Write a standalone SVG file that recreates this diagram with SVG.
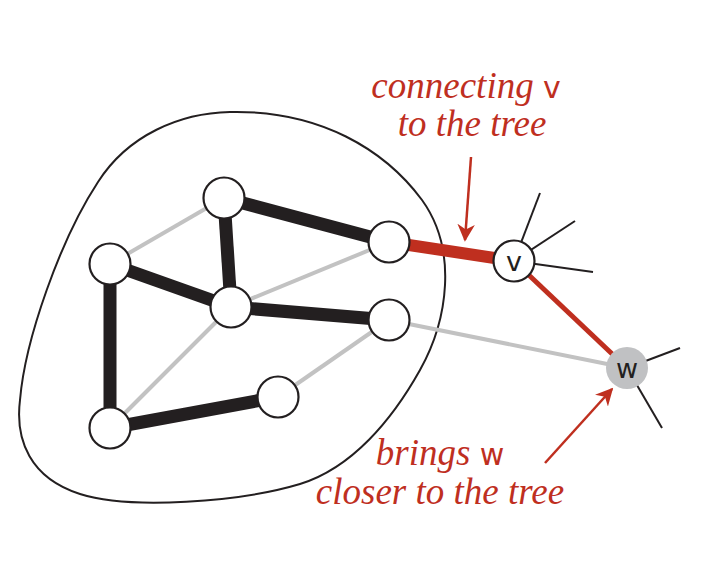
<svg xmlns="http://www.w3.org/2000/svg" width="709" height="565" viewBox="0 0 709 565">
<style>
.node{fill:#fff;stroke:#231f20;stroke-width:2.2}
.gray{stroke:#c2c2c2;stroke-width:4;fill:none}
.tree{stroke:#231f20;stroke-width:13;fill:none}
.stub{stroke:#231f20;stroke-width:2;fill:none}
.red{stroke:#bf2f1f;fill:none}
.lbl{font-family:"Liberation Serif",serif;font-style:italic;font-size:37px;fill:#bf2f1f}
.sans{font-family:"DejaVu Sans","Liberation Sans",sans-serif;font-style:normal}
.nl{font-family:"DejaVu Sans","Liberation Sans",sans-serif;font-size:27px;fill:#231f20;text-anchor:middle}
</style>
<defs>
<marker id="ah" viewBox="0 0 10 10" refX="9" refY="5" markerWidth="7" markerHeight="7" orient="auto" markerUnits="strokeWidth">
<path d="M0,0 L10,5 L0,10 L3,5 Z" fill="#bf2f1f"/>
</marker>
</defs>
<path id="blob" d="M230,112 C320,110 385,150 422,200 C458,250 448,320 420,370 C392,420 352,468 300,484 C240,502 130,510 80,494 C30,478 15,440 20,400 C25,340 60,240 98,182 C128,135 180,113 230,112 Z" fill="none" stroke="#231f20" stroke-width="2"/>
<g id="connectors">
<line class="gray" x1="224" y1="198" x2="110" y2="264"/>
<line class="gray" x1="231" y1="307" x2="389" y2="242"/>
<line class="gray" x1="231" y1="307" x2="110" y2="428"/>
<line class="gray" x1="278" y1="397" x2="389" y2="320"/>
<line class="gray" x1="389" y1="320" x2="627" y2="368"/>
<line class="tree" x1="224" y1="198" x2="389" y2="242"/>
<line class="tree" x1="224" y1="198" x2="231" y2="307"/>
<line class="tree" x1="110" y1="264" x2="231" y2="307"/>
<line class="tree" x1="231" y1="307" x2="389" y2="320"/>
<line class="tree" x1="110" y1="264" x2="110" y2="428"/>
<line class="tree" x1="110" y1="428" x2="278" y2="397"/>
<line class="red" stroke-width="12" x1="389" y1="242" x2="514" y2="261"/>
<line class="red" stroke-width="5" x1="514" y1="261" x2="627" y2="368"/>
<line class="stub" x1="514" y1="261" x2="540" y2="193"/>
<line class="stub" x1="514" y1="261" x2="575" y2="221"/>
<line class="stub" x1="514" y1="261" x2="593" y2="272"/>
<line class="stub" x1="627" y1="368" x2="680" y2="348"/>
<line class="stub" x1="627" y1="368" x2="662" y2="428"/>
<line class="red" stroke-width="2.5" x1="471" y1="157" x2="465" y2="240" marker-end="url(#ah)"/>
<line class="red" stroke-width="2.5" x1="545" y1="463" x2="612" y2="389" marker-end="url(#ah)"/>
</g>
<g id="nA"><circle class="node" cx="224" cy="198" r="20.5"/></g>
<g id="nB"><circle class="node" cx="110" cy="264" r="20.5"/></g>
<g id="nC"><circle class="node" cx="231" cy="307" r="20.5"/></g>
<g id="nD"><circle class="node" cx="389" cy="242" r="20.5"/></g>
<g id="nE"><circle class="node" cx="389" cy="320" r="20.5"/></g>
<g id="nF"><circle class="node" cx="278" cy="397" r="20.5"/></g>
<g id="nG"><circle class="node" cx="110" cy="428" r="20.5"/></g>
<g id="nv"><circle class="node" cx="514" cy="261" r="20.5"/><text class="nl" x="514" y="271">v</text></g>
<g id="nw"><circle cx="627" cy="368" r="21" fill="#c0c1c3"/><text class="nl" x="627" y="378">w</text></g>
<g id="label1">
<text class="lbl" x="466" y="98" text-anchor="middle">connecting <tspan class="sans" font-size="30">v</tspan></text>
<text class="lbl" x="472" y="136" text-anchor="middle">to the tree</text>
</g>
<g id="label2">
<text class="lbl" x="440" y="465" text-anchor="middle">brings <tspan class="sans" font-size="30">w</tspan></text>
<text class="lbl" x="440" y="504" text-anchor="middle">closer to the tree</text>
</g>
</svg>
